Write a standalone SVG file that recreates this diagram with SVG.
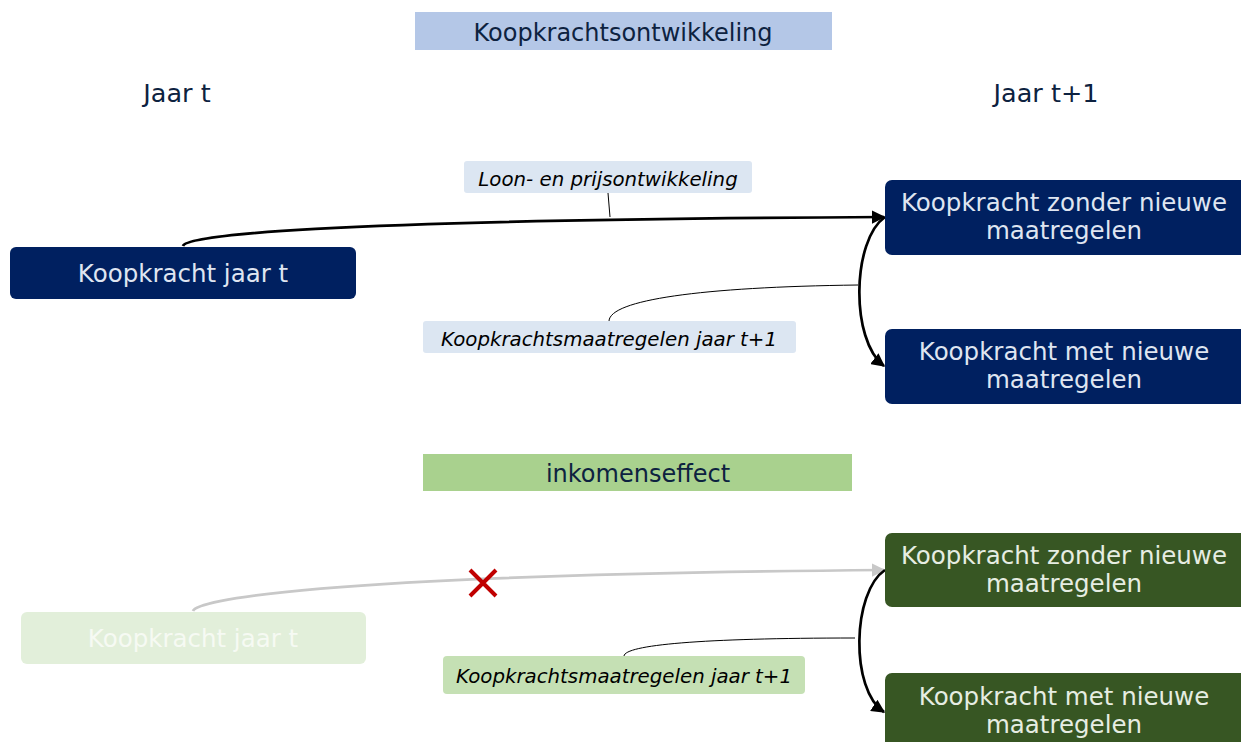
<svg xmlns="http://www.w3.org/2000/svg" width="1241" height="742" viewBox="0 0 1241 742">
<defs>
<marker id="ah" viewBox="0 0 10 10" refX="9" refY="5" markerWidth="5" markerHeight="5" orient="auto" markerUnits="strokeWidth"><path d="M0,0 L10,5 L0,10 z" fill="#000"/></marker>
<marker id="ahg" viewBox="0 0 10 10" refX="9" refY="5" markerWidth="5" markerHeight="5" orient="auto" markerUnits="strokeWidth"><path d="M0,0 L10,5 L0,10 z" fill="#c8c8c8"/></marker>
</defs>
<style>
text{font-family:"DejaVu Sans","Liberation Sans",sans-serif;text-anchor:middle}
.hdr{font-size:24px;fill:#0d2240}
.jr{font-size:25.5px;fill:#0d2240}
.nodeb{fill:#002060}
.nodeg{fill:#375623}
.nt{font-size:24.5px;fill:#dfe5f1}
.ntg{font-size:24.5px;fill:#e6ede2}
.lbl{font-size:19.8px;font-style:italic;fill:#000}
.conn{fill:none;stroke:#000;stroke-width:2.7}
.lead{fill:none;stroke:#000;stroke-width:1}
</style>
<g id="title1"><rect x="415" y="12" width="417" height="38" fill="#b4c7e7"/><text class="hdr" x="623" y="41">Koopkrachtsontwikkeling</text></g>
<g id="jaar-t"><text class="jr" x="177" y="102">Jaar t</text></g>
<g id="jaar-t1"><text class="jr" x="1046" y="102">Jaar t+1</text></g>
<g id="connectors">
<path class="conn" d="M183,246 C186,236 300,220 884,217" marker-end="url(#ah)"/>
<path class="conn" d="M885,217 C852,240 850,340 884,366" marker-end="url(#ah)"/>
<path class="lead" d="M608,193 L610,217"/>
<path class="lead" d="M609,321 C610,300 700,287 858,285"/>
<path fill="none" stroke="#c8c8c8" stroke-width="2.7" d="M193,611 C196,601 300,575 884,570" marker-end="url(#ahg)"/>
<path class="conn" d="M885,570 C852,592 850,690 884,712" marker-end="url(#ah)"/>
<path class="lead" d="M624,656 C625,645 700,638 855,638"/>
<path d="M470,570 L496,596 M496,570 L470,596" stroke="#c00000" stroke-width="4"/>
</g>
<g id="n-jaar-t"><rect class="nodeb" x="10" y="247" width="346" height="52" rx="6"/><text class="nt" x="183" y="282">Koopkracht jaar t</text></g>
<g id="n-zonder"><rect class="nodeb" x="885" y="180" width="362" height="75" rx="7"/><text class="nt" x="1064" y="211">Koopkracht zonder nieuwe</text><text class="nt" x="1064" y="239">maatregelen</text></g>
<g id="n-met"><rect class="nodeb" x="885" y="329" width="362" height="75" rx="7"/><text class="nt" x="1064" y="360">Koopkracht met nieuwe</text><text class="nt" x="1064" y="388">maatregelen</text></g>
<g id="l-loon"><rect x="464" y="161" width="288" height="32" rx="3" fill="#dce6f2"/><text class="lbl" x="608" y="186">Loon- en prijsontwikkeling</text></g>
<g id="l-maat"><rect x="423" y="321" width="373" height="32" rx="3" fill="#dce6f2"/><text class="lbl" x="609" y="346">Koopkrachtsmaatregelen jaar t+1</text></g>
<g id="title2"><rect x="423" y="454" width="429" height="37" fill="#a9d18e"/><text class="hdr" x="638" y="482">inkomenseffect</text></g>
<g id="g-jaar-t"><rect x="21" y="612" width="345" height="52" rx="6" fill="#e2efda"/><text class="nt" x="193" y="647" style="fill:#f6faf3">Koopkracht jaar t</text></g>
<g id="g-zonder"><rect class="nodeg" x="885" y="533" width="362" height="74" rx="7"/><text class="ntg" x="1064" y="564">Koopkracht zonder nieuwe</text><text class="ntg" x="1064" y="592">maatregelen</text></g>
<g id="g-met"><rect class="nodeg" x="885" y="673" width="362" height="75" rx="7"/><text class="ntg" x="1064" y="705">Koopkracht met nieuwe</text><text class="ntg" x="1064" y="733">maatregelen</text></g>
<g id="g-maat"><rect x="443" y="656" width="362" height="38" rx="4" fill="#c5e0b4"/><text class="lbl" x="624" y="683">Koopkrachtsmaatregelen jaar t+1</text></g>
</svg>
